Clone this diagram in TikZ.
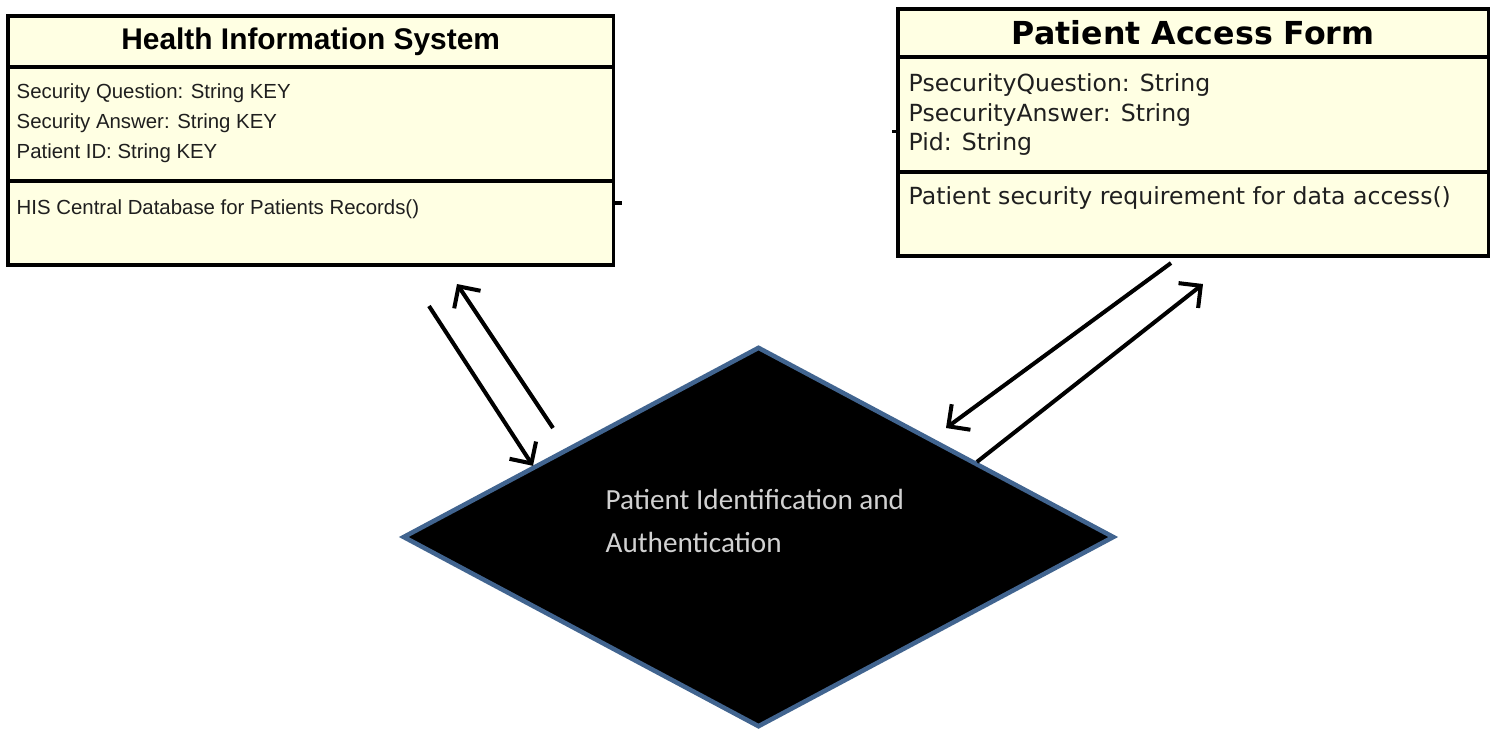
\documentclass[tikz,border=0pt]{standalone}
\usepackage{fontspec}
\usepackage{tikz}
\usetikzlibrary{shapes.geometric,arrows.meta,calc}
\newfontfamily\hisfont{Liberation Sans}
\newfontfamily\paffont{DejaVu Sans}
\newfontfamily\pidfont{Carlito}
\definecolor{umlfill}{HTML}{FFFFE3}
\definecolor{pidedge}{HTML}{41648F}
\tikzset{
    umlpart/.style={rectangle, draw=black, fill=umlfill, line width=1pt,
    	inner sep=0pt, outer sep=0pt}
}
\tikzset{
    member/.style={inner sep=0pt, anchor=base west, text=black!88}
}
\tikzset{
    flow/.style={line width=1.15pt, -{Straight Barb[length=4.5pt, width=9pt]}}
}

\begin{document}
\begin{tikzpicture}[x=0.01cm, y=-0.01cm]
  \useasboundingbox (0,0) rectangle (1494,729);

  % Health Information System
  \node (hisTitle) [umlpart, minimum width=6.05cm, minimum height=0.51cm, anchor=north west,
    font={\hisfont\bfseries\fontsize{8.5}{10}\selectfont}] at (8,16) {Health Information System};
  \node (hisAttr) [umlpart, minimum width=6.05cm, minimum height=1.14cm, anchor=north] at (hisTitle.south) {};
  \node (hisOps) [umlpart, minimum width=6.05cm, minimum height=0.84cm, anchor=north] at (hisAttr.south) {};
  \node (hisA1) [member, font={\hisfont\fontsize{5.8}{7}\selectfont}] at (16,98) {Security Question: String KEY};
  \node (hisA2) [member, font={\hisfont\fontsize{5.8}{7}\selectfont}] at (16,128) {Security Answer: String KEY};
  \node (hisA3) [member, font={\hisfont\fontsize{5.8}{7}\selectfont}] at (16,158) {Patient ID: String KEY};
  \node (hisO1) [member, font={\hisfont\fontsize{5.8}{7}\selectfont}] at (16,214) {HIS Central Database for Patients Records()};
  \draw [line width=1pt] (hisOps.east) ++(0,-20) -- ++(9,0);

  % Patient Access Form
  \node (pafTitle) [umlpart, minimum width=5.90cm, minimum height=0.48cm, anchor=north west,
    font={\paffont\bfseries\fontsize{9}{11}\selectfont}] at (898,9) {Patient Access Form};
  \node (pafAttr) [umlpart, minimum width=5.90cm, minimum height=1.15cm, anchor=north] at (pafTitle.south) {};
  \node (pafOps) [umlpart, minimum width=5.90cm, minimum height=0.84cm, anchor=north] at (pafAttr.south) {};
  \node (pafA1) [member, font={\paffont\fontsize{6.7}{8}\selectfont}] at (908,91) {PsecurityQuestion: String};
  \node (pafA2) [member, font={\paffont\fontsize{6.7}{8}\selectfont}] at (908,121) {PsecurityAnswer: String};
  \node (pafA3) [member, font={\paffont\fontsize{6.7}{8}\selectfont}] at (908,150) {Pid: String};
  \node (pafO1) [member, font={\paffont\fontsize{6.7}{8}\selectfont}] at (908,204) {Patient security requirement for data access()};
  \draw [line width=1pt] (pafAttr.west) ++(0,17) -- ++(-6,0);

  % identification step
  \node (pid) [diamond, draw=pidedge, fill=black, line width=1.3pt, minimum width=7.11cm,
    minimum height=3.80cm, inner sep=0pt] at (758.5,537) {};
  \node (pidL1) [member, text=white!82!black, font={\pidfont\fontsize{8.3}{10}\selectfont}] at (605,509) {Patient Identification and};
  \node (pidL2) [member, text=white!82!black, font={\pidfont\fontsize{8.3}{10}\selectfont}] at (605,552) {Authentication};

  \coordinate (hisOut) at (429,306);
  \coordinate (hisIn) at (457,284);
  \coordinate (pidUp) at (553,428);
  \coordinate (pafOut) at (1171,263);
  \coordinate (pafIn) at (1203,284);
  \coordinate (pidIn) at (946,428);

  \draw [flow] (hisOut) -- ($(pid.west)!0.37!(pid.north)$);
  \draw [flow] (pidUp) -- (hisIn);
  \draw [flow] (pafOut) -- (pidIn);
  \draw [flow] ($(pid.north)!0.61!(pid.east)$) -- (pafIn);
\end{tikzpicture}
\end{document}
